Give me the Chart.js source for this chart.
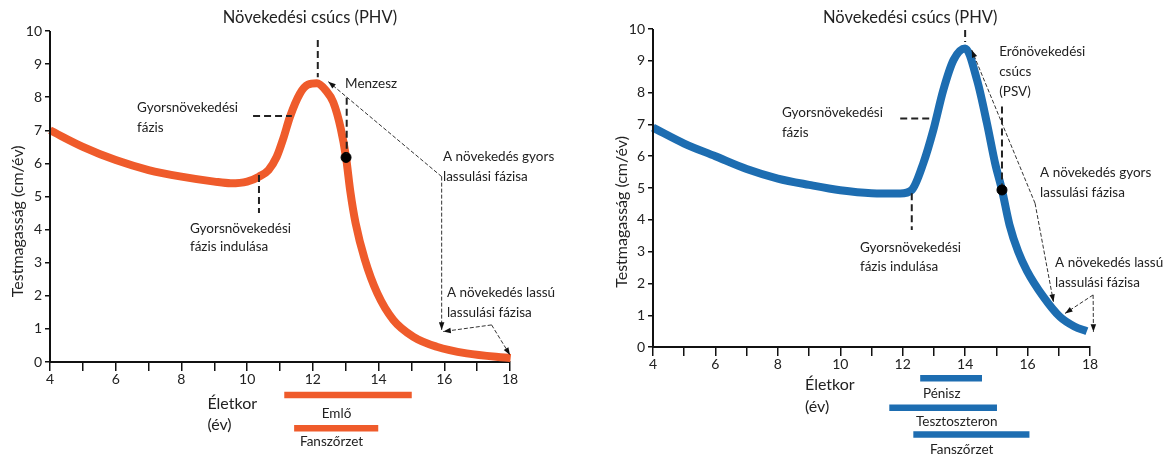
<!DOCTYPE html>
<html>
<head>
<meta charset="utf-8">
<script src="https://cdn.jsdelivr.net/npm/chart.js@4.4.0/dist/chart.umd.min.js"></script>
<style>
  html, body { margin: 0; padding: 0; background: #fff; }
  #wrap { position: relative; width: 1165px; height: 454px; overflow: hidden; }
  .box { position: absolute; top: 0; }
</style>
</head>
<body>
<div id="wrap">
  <div class="box" style="left:0"><canvas id="girls" width="580" height="454"></canvas></div>
  <div class="box" style="left:585px"><canvas id="boys" width="580" height="454"></canvas></div>
</div>
<script>
// tengelyek
const ageTicks = [4, 5, 6, 7, 8, 9, 10, 11, 12, 13, 14, 15, 16, 17, 18];
const velTicks = [0, 1, 2, 3, 4, 5, 6, 7, 8, 9, 10];

// lányok (narancs görbe)
const girlsAge = [4, 5, 6, 7, 8, 9, 9.5, 10.0, 10.36, 10.65, 10.9, 11.1, 11.3, 11.6, 11.85, 12.12, 12.4, 12.62, 12.85, 13.01, 13.14, 13.3, 13.58, 13.96, 14.45, 15.06, 15.77, 16.68, 18.02];
const girlsVel = [7.0, 6.5, 6.1, 5.8, 5.6, 5.45, 5.4, 5.45, 5.6, 5.8, 6.2, 6.75, 7.4, 8.1, 8.38, 8.42, 8.2, 7.85, 7.05, 6.18, 5.15, 4.2, 3.1, 2.08, 1.27, 0.76, 0.46, 0.26, 0.12];
const girlsMenarche = [13.01, 6.18];
const girlsBarNames = ['Emlő', 'Fanszőrzet'];
const girlsBarStart = [11.13, 11.43];
const girlsBarEnd = [15.01, 13.99];
const girlsBarRow = [-1.0, -2.0];

// fiúk (kék görbe)
const boysAge = [4, 5, 6, 7, 8, 9, 10, 11, 11.92, 12.29, 12.66, 12.98, 13.3, 13.63, 14.0, 14.38, 14.7, 14.96, 15.18, 15.42, 15.7, 15.98, 16.51, 17.04, 17.5, 17.9];
const boysVel = [6.9, 6.4, 6.0, 5.6, 5.3, 5.1, 4.93, 4.84, 4.83, 4.94, 5.78, 6.82, 8.08, 9.03, 9.39, 8.4, 7.03, 5.78, 4.94, 3.85, 3.0, 2.4, 1.58, 0.95, 0.65, 0.5];
const boysPSV = [15.18, 4.94];
const boysBarNames = ['Pénisz', 'Tesztoszteron', 'Fanszőrzet'];
const boysBarStart = [12.56, 11.57, 12.34];
const boysBarEnd = [14.54, 15.02, 16.06];
const boysBarRow = [-0.98, -1.91, -2.75];

const FONT = 'Lato, "Open Sans", sans-serif';
const ORANGE = '#EF5B2B';
const BLUE = '#1D6DB1';

// feliratok, szaggatott vonalak, nyilak rajzolása adatkoordinátákban
const annot = {
  id: 'annot',
  afterDatasetsDraw(chart, args, o) {
    const { ctx, scales: { x, y } } = chart;
    const X = v => x.getPixelForValue(v), Y = v => y.getPixelForValue(v);
    ctx.save();
    // y tengely vonala 0-10 között
    ctx.strokeStyle = '#111'; ctx.lineWidth = 2;
    ctx.beginPath(); ctx.moveTo(x.left, Y(0) + 1); ctx.lineTo(x.left, Y(10)); ctx.stroke();

    // y tengely címe
    ctx.save();
    ctx.translate(o.yTitleX, Y(4.25));
    ctx.rotate(-Math.PI / 2);
    ctx.font = '16px ' + FONT; ctx.fillStyle = '#222';
    ctx.textAlign = 'center'; ctx.textBaseline = 'middle';
    ctx.fillText('Testmagasság (cm/év)', 0, 0);
    ctx.restore();

    // vastag szaggatott vonalak
    ctx.strokeStyle = '#222'; ctx.lineWidth = 2; ctx.setLineDash([7, 4]);
    o.dashes.forEach(d => {
      ctx.beginPath(); ctx.moveTo(X(d[0]), Y(d[1])); ctx.lineTo(X(d[2]), Y(d[3])); ctx.stroke();
    });

    // vékony szaggatott nyilak
    ctx.lineWidth = 1; ctx.setLineDash([4, 2]);
    o.arrows.forEach(a => {
      const x0 = X(a[0]), y0 = Y(a[1]), x1 = X(a[2]), y1 = Y(a[3]);
      ctx.strokeStyle = '#333';
      ctx.beginPath(); ctx.moveTo(x0, y0); ctx.lineTo(x1, y1); ctx.stroke();
      const ang = Math.atan2(y1 - y0, x1 - x0);
      ctx.setLineDash([]);
      ctx.fillStyle = '#111';
      ctx.beginPath();
      ctx.moveTo(x1, y1);
      ctx.lineTo(x1 - 8 * Math.cos(ang - 0.35), y1 - 8 * Math.sin(ang - 0.35));
      ctx.lineTo(x1 - 8 * Math.cos(ang + 0.35), y1 - 8 * Math.sin(ang + 0.35));
      ctx.closePath(); ctx.fill();
      ctx.setLineDash([4, 2]);
    });
    ctx.setLineDash([]);

    // szövegek
    ctx.fillStyle = '#222'; ctx.textBaseline = 'middle';
    o.texts.forEach(t => {
      ctx.font = (t.size || 13.5) + 'px ' + FONT;
      ctx.textAlign = t.align || 'left';
      ctx.fillText(t.s, X(t.x), Y(t.y));
    });
    ctx.restore();
  }
};

function makeChart(id, cfg) {
  const curve = cfg.age.map((a, i) => ({ x: a, y: cfg.vel[i] }));
  const bars = cfg.barStart.map((s, i) => ({
    data: [{ x: s, y: cfg.barY[i] }, { x: cfg.barEnd[i], y: cfg.barY[i] }],
    borderColor: cfg.color, borderWidth: 6.5, borderCapStyle: 'butt',
    showLine: true, pointRadius: 0, clip: false
  }));
  new Chart(document.getElementById(id), {
    type: 'scatter',
    data: {
      datasets: [
        { data: curve, showLine: true, borderColor: cfg.color, borderWidth: 8,
          cubicInterpolationMode: 'monotone', pointRadius: 0, clip: 10, borderCapStyle: 'butt' },
        // a fekete pont a görbe fölött legyen
        { data: [{ x: cfg.dot[0], y: cfg.dot[1] }], pointRadius: 5, order: -1,
          backgroundColor: '#000', borderColor: '#000' },
        ...bars
      ]
    },
    options: {
      responsive: false, animation: false, devicePixelRatio: 1,
      layout: { autoPadding: false, padding: { top: cfg.top, right: cfg.right, bottom: 0, left: 0 } },
      plugins: { legend: { display: false }, tooltip: { enabled: false }, annot: cfg.annot },
      scales: {
        x: {
          type: 'linear', min: 4, max: 18, position: { y: 0 },
          afterBuildTicks: s => { s.ticks = ageTicks.map(v => ({ value: v })); },
          ticks: { callback: v => (v % 2 === 0 ? v : ''), color: '#222', font: { size: 14, family: FONT }, padding: 1, maxRotation: 0, autoSkip: false },
          grid: { drawOnChartArea: false, tickLength: 8, color: '#111', lineWidth: 1.5 },
          border: { color: '#111', width: 2 }
        },
        y: {
          min: cfg.ymin, max: 10,
          afterBuildTicks: s => { s.ticks = velTicks.map(v => ({ value: v })); },
          afterFit: s => { s.width = cfg.left; s.paddingTop = 0; s.paddingBottom = 0; },
          ticks: { color: '#222', font: { size: 14, family: FONT }, padding: 3 },
          grid: { drawOnChartArea: false, tickLength: 5, color: '#111', lineWidth: 1.5 },
          border: { display: false }
        }
      }
    },
    plugins: [annot]
  });
}

makeChart('girls', {
  age: girlsAge, vel: girlsVel, dot: girlsMenarche, color: ORANGE,
  barStart: girlsBarStart, barEnd: girlsBarEnd, barY: girlsBarRow,
  top: 31, right: 70, left: 50, ymin: -2.78,
  annot: {
    yTitleX: 18,
    dashes: [
      [12.15, 9.73, 12.15, 8.6],
      [13.03, 7.98, 13.03, 6.3],
      [10.18, 7.43, 11.36, 7.43],
      [10.36, 5.65, 10.36, 4.5]
    ],
    arrows: [
      [15.92, 5.6, 12.47, 8.47],
      [15.92, 5.6, 15.92, 0.97],
      [17.44, 1.12, 15.97, 0.92],
      [17.44, 1.12, 18.0, 0.21]
    ],
    texts: [
      { s: 'Növekedési csúcs (PHV)', x: 11.91, y: 10.39, align: 'center', size: 16.5 },
      { s: 'Menzesz', x: 12.98, y: 8.4 },
      { s: 'Gyorsnövekedési', x: 6.65, y: 7.67 },
      { s: 'fázis', x: 6.65, y: 7.07 },
      { s: 'Gyorsnövekedési', x: 8.26, y: 4.02 },
      { s: 'fázis indulása', x: 8.26, y: 3.47 },
      { s: 'A növekedés gyors', x: 15.96, y: 6.19 },
      { s: 'lassulási fázisa', x: 15.96, y: 5.59 },
      { s: 'A növekedés lassú', x: 16.08, y: 2.11 },
      { s: 'lassulási fázisa', x: 16.08, y: 1.48 },
      { s: 'Életkor', x: 8.79, y: -1.25, size: 16 },
      { s: '(év)', x: 8.79, y: -1.9, size: 16 },
      { s: girlsBarNames[0], x: 12.72, y: -1.55, align: 'center' },
      { s: girlsBarNames[1], x: 12.57, y: -2.41, align: 'center' }
    ]
  }
});

makeChart('boys', {
  age: boysAge, vel: boysVel, dot: boysPSV, color: BLUE,
  barStart: boysBarStart, barEnd: boysBarEnd, barY: boysBarRow,
  top: 29, right: 75, left: 68, ymin: -3.36,
  annot: {
    yTitleX: 37,
    dashes: [
      [14.0, 9.97, 14.0, 9.59],
      [15.18, 7.56, 15.18, 5.1],
      [11.92, 7.19, 12.93, 7.19],
      [12.29, 4.84, 12.29, 3.68]
    ],
    arrows: [
      [16.24, 4.52, 14.21, 9.34],
      [16.24, 4.52, 16.83, 1.42],
      [18.1, 1.64, 17.2, 1.06],
      [18.1, 1.64, 18.11, 0.48]
    ],
    texts: [
      { s: 'Növekedési csúcs (PHV)', x: 12.24, y: 10.35, align: 'center', size: 16.5 },
      { s: 'Erőnövekedési', x: 15.09, y: 9.28 },
      { s: 'csúcs', x: 15.09, y: 8.65 },
      { s: '(PSV)', x: 15.09, y: 8.02 },
      { s: 'Gyorsnövekedési', x: 8.13, y: 7.36 },
      { s: 'fázis', x: 8.13, y: 6.73 },
      { s: 'Gyorsnövekedési', x: 10.63, y: 3.14 },
      { s: 'fázis indulása', x: 10.63, y: 2.52 },
      { s: 'A növekedés gyors', x: 16.4, y: 5.5 },
      { s: 'lassulási fázisa', x: 16.4, y: 4.87 },
      { s: 'A növekedés lassú', x: 16.88, y: 2.67 },
      { s: 'lassulási fázisa', x: 16.88, y: 2.04 },
      { s: 'Életkor', x: 8.87, y: -1.19, size: 16 },
      { s: '(év)', x: 8.87, y: -1.88, size: 16 },
      { s: boysBarNames[0], x: 13.25, y: -1.46, align: 'center' },
      { s: boysBarNames[1], x: 13.73, y: -2.33, align: 'center' },
      { s: boysBarNames[2], x: 13.89, y: -3.22, align: 'center' }
    ]
  }
});
</script>
</body>
</html>
